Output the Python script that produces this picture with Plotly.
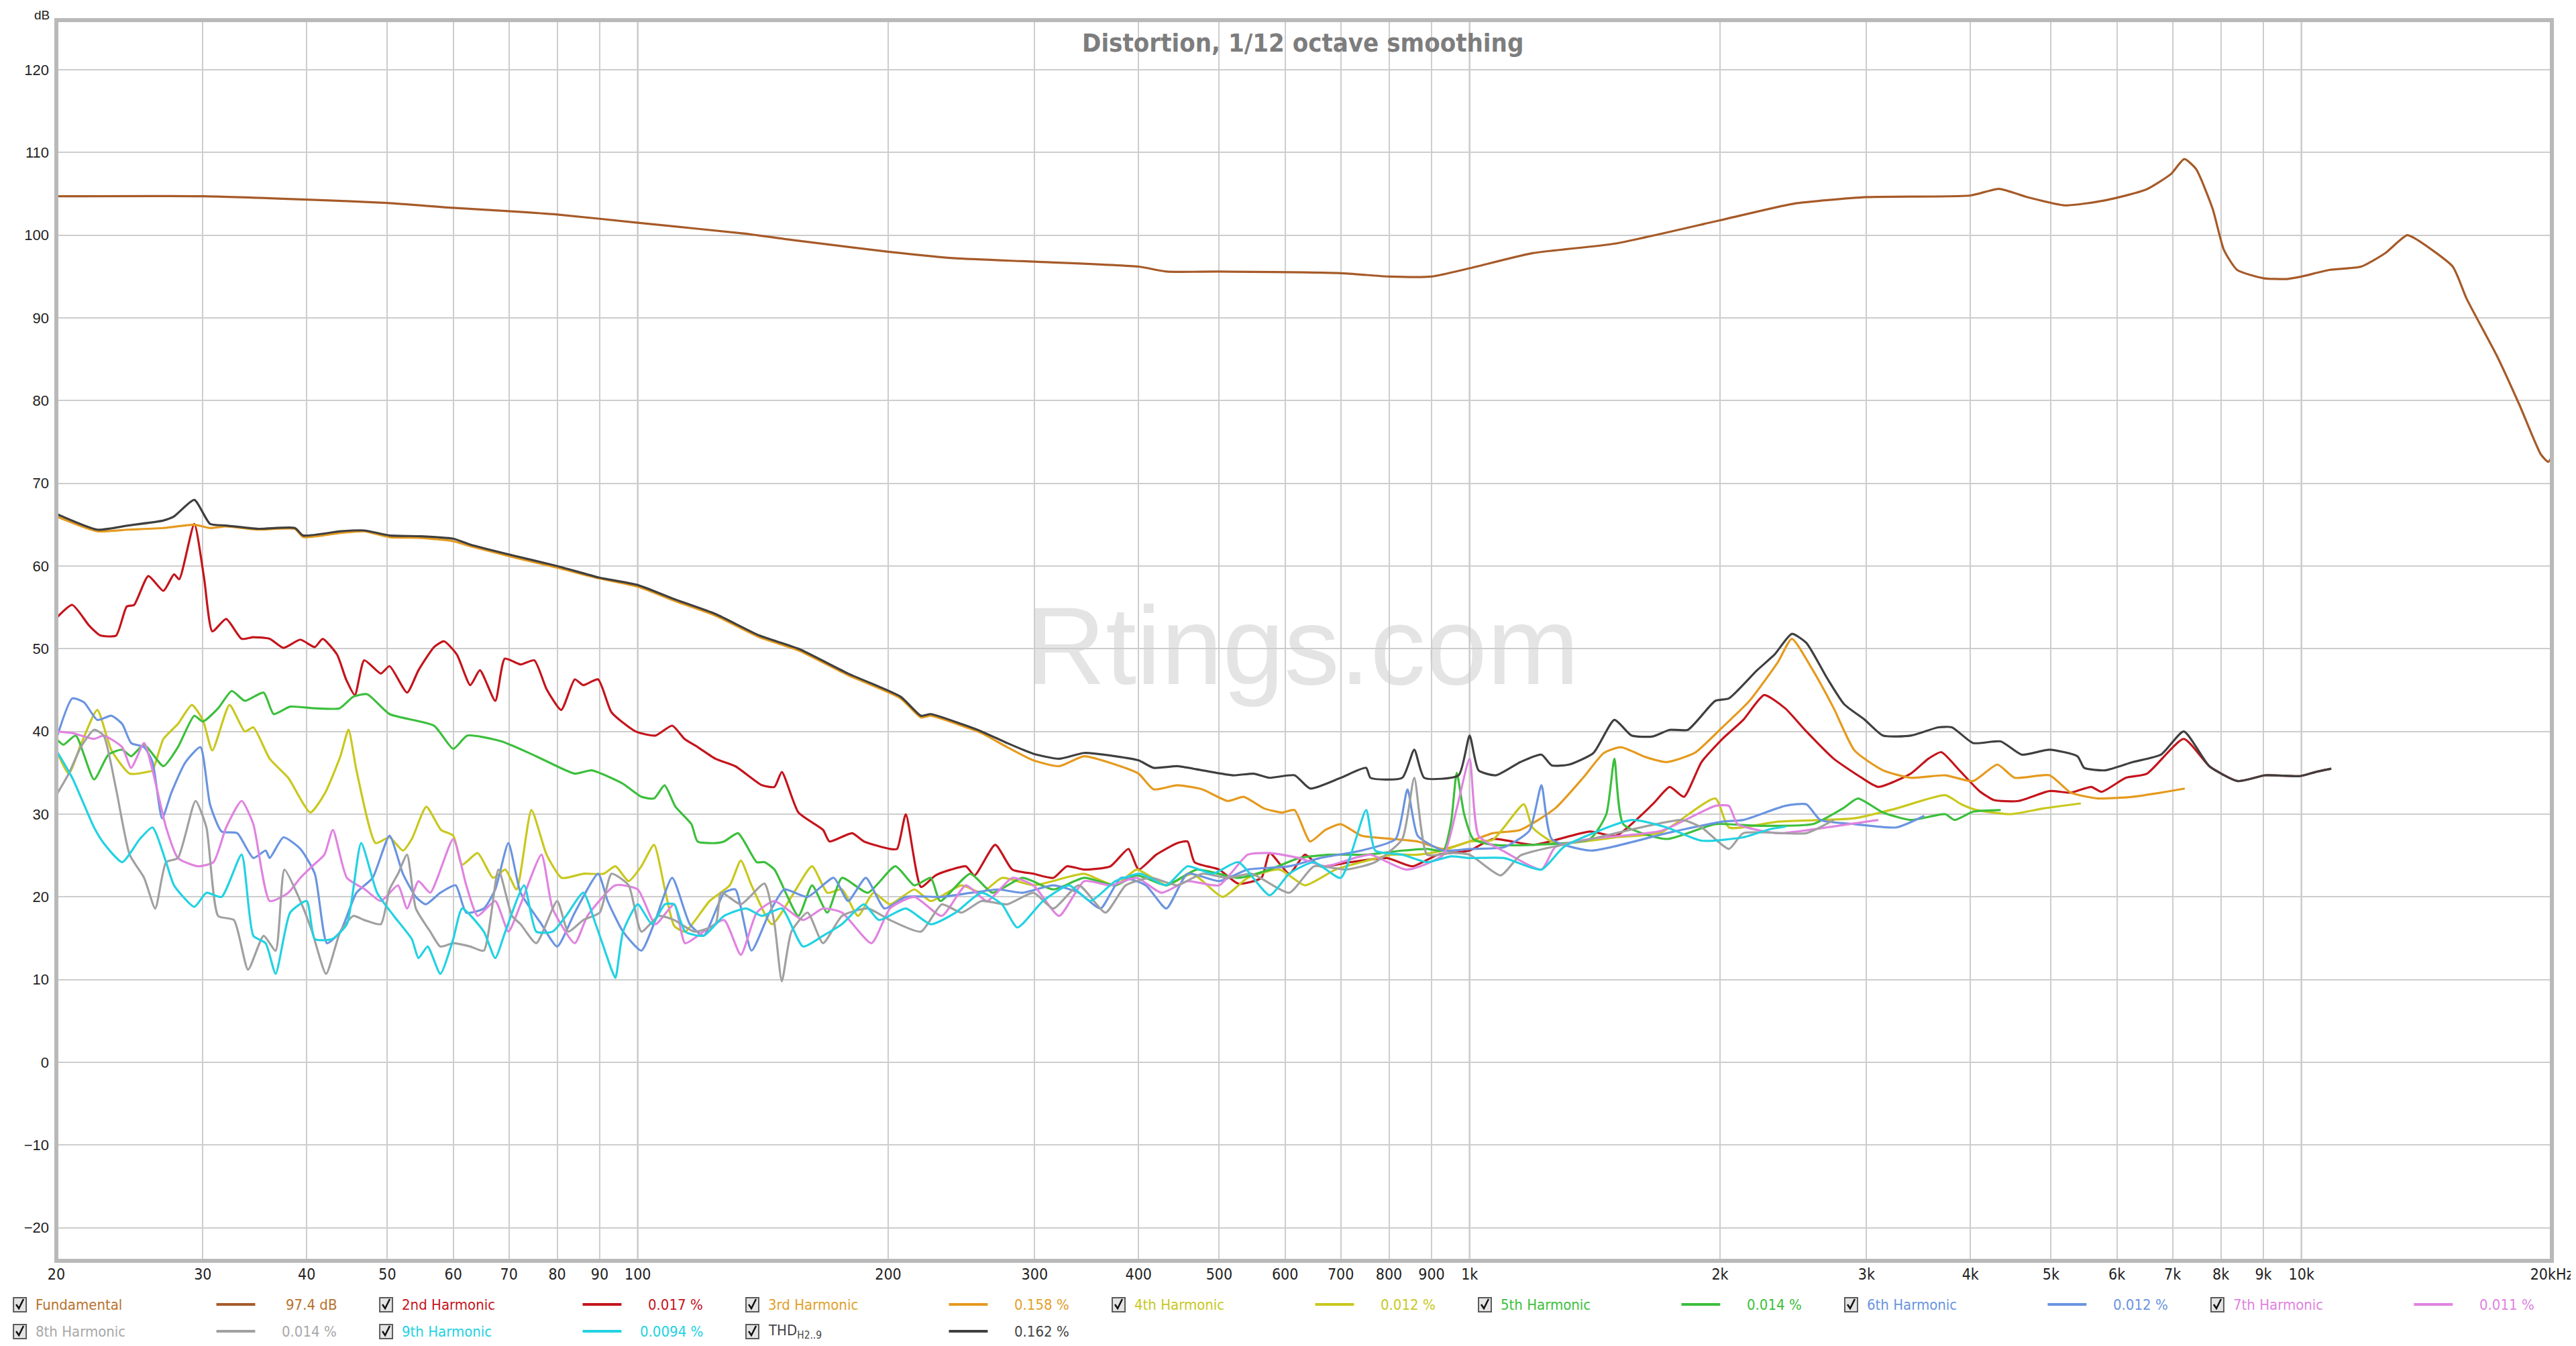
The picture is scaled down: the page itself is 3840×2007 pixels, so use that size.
import math
import plotly.graph_objects as go

# ---------------- data (frequency Hz, level dB) ----------------
FUND = [(20,104.7),(30,104.7),(40,104.3),(50,103.9),(60,103.3),(70,102.9),(80,102.5),(100,101.5),(134,100.2),(154,99.4),(200,98.0),(241,97.2),(300,96.8),(400,96.2),(432,95.6),(500,95.6),(700,95.4),(800,95.0),(900,95.0),(1000,96.0),(1186,97.8),(1500,99.0),(2000,101.8),(2450,103.8),(3000,104.6),(4000,104.8),(4330,105.6),(4680,104.6),(5200,103.6),(5800,104.2),(6500,105.5),(6970,107.4),(7230,109.2),(7470,108.0),(7820,103.2),(8070,98.2),(8370,95.8),(9000,94.8),(9600,94.7),(10000,95.0),(10800,95.8),(11800,96.2),(12600,97.8),(13400,100.0),(13800,99.4),(15200,96.2),(15800,92.3),(17200,85.3),(18300,79.4),(19400,73.5),(19800,72.6),(20000,73.2)]

H2 = [(20,53.7),(20.9,55.3),(21.9,52.8),(22.6,51.6),(23.6,51.6),(24.3,55.1),(24.8,55.3),(25.8,58.8),(26.9,57.0),(27.7,59.0),(28.1,58.4),(29.3,65.1),(30.1,58.6),(30.8,52.1),(32.0,53.6),(33.4,51.2),(34.5,51.4),(36.1,51.2),(37.5,50.1),(39.3,51.1),(40.9,50.2),(41.8,51.2),(43.5,49.3),(44.6,46.3),(45.7,44.4),(46.9,48.6),(49.1,47.0),(50.3,47.9),(52.8,44.7),(54.5,47.4),(56.9,50.2),(58.5,50.9),(60.6,49.3),(62.9,45.6),(64.6,47.4),(67.4,43.7),(69.2,48.8),(72.3,48.1),(75.1,48.6),(77.7,45.1),(80.9,42.6),(84,46.3),(86,45.6),(89.6,46.3),(93,42.3),(99.4,40.0),(105,39.5),(110,40.7),(113.8,39.1),(118.1,38.1),(124,36.7),(131,35.8),(141,33.5),(146,33.3),(149,35.1),(156,30.2),(167,28.1),(170,26.7),(181,27.7),(187,26.7),(201,25.8),(205,25.8),(210,30.0),(219,21.2),(228,22.6),(238,23.3),(248,23.7),(254,22.6),(269,26.3),(282,23.3),(299,22.8),(316,22.3),(328,23.7),(344,23.3),(370,23.7),(389,25.8),(400,23.3),(420,25.1),(445,26.5),(458,26.7),(467,24.2),(500,23.3),(527,21.6),(562,22.3),(575,25.3),(607,22.8),(634,25.1),(661,23.7),(719,24.2),(795,24.7),(854,23.7),(916,25.1),(1000,25.6),(1066,27.0),(1196,26.3),(1395,27.9),(1500,27.4),(1660,31.2),(1740,33.3),(1810,32.1),(1900,36.3),(2013,39.1),(2133,41.4),(2260,44.4),(2395,42.8),(2540,40.0),(2740,36.7),(2960,34.4),(3100,33.3),(3390,34.9),(3560,36.7),(3690,37.5),(3880,35.3),(4100,32.8),(4270,31.7),(4570,31.6),(4980,32.8),(5280,32.6),(5590,33.3),(5750,32.7),(6150,34.4),(6520,34.9),(7220,39.1),(7750,35.8),(8380,34.0),(9050,34.7),(9960,34.6),(10400,35.1),(10860,35.5)]

H3 = [(20,66.0),(22.4,64.2),(24.4,64.4),(26.9,64.6),(29.3,65.0),(30.6,64.6),(32,64.8),(35,64.4),(38.7,64.5),(39.6,63.5),(43.9,64.0),(46.9,64.2),(50.3,63.5),(54.9,63.4),(60,63.0),(62.9,62.4),(70,61.2),(80,59.8),(89.9,58.5),(100,57.5),(110.6,55.8),(124,54.0),(140,51.4),(156,49.8),(179,46.8),(207,44.0),(219,41.7),(225,41.9),(245,40.7),(259,39.8),(278,38.1),(299,36.5),(321,35.8),(344,37.0),(375,36.0),(400,34.9),(417,33.0),(445,33.5),(477,33.0),(512,31.6),(535,32.1),(566,30.7),(595,30.2),(616,30.5),(643,26.7),(671,28.1),(700,28.8),(741,27.4),(807,27.0),(866,26.7),(930,25.8),(1000,26.7),(1066,27.7),(1151,28.1),(1267,30.7),(1369,34.4),(1450,37.4),(1520,38.1),(1628,36.9),(1725,36.3),(1864,37.4),(2013,40.5),(2170,43.7),(2348,48.4),(2440,51.2),(2586,47.4),(2740,42.8),(2902,37.7),(3140,35.3),(3390,34.4),(3730,34.7),(4030,34.0),(4310,36.0),(4520,34.4),(4980,34.7),(5280,32.6),(5700,31.9),(6270,32.1),(6780,32.6),(7240,33.1)]

H4 = [(20,37.7),(20.7,34.9),(21.4,38.4),(22.4,42.6),(23.3,37.7),(24.5,34.9),(25.7,35.1),(26.1,35.3),(26.9,39.1),(28.0,40.9),(29.1,43.2),(30.0,41.4),(30.8,37.7),(32.3,43.2),(33.7,40.0),(34.5,40.5),(36.1,36.7),(38.0,34.4),(40.4,30.2),(42.1,32.6),(43.9,37.0),(44.9,40.2),(45.9,35.3),(48.4,26.5),(50.3,27.2),(52.2,25.6),(53.5,27.0),(55.7,30.9),(58,28.1),(60,27.4),(61.5,23.9),(64.2,25.3),(67,22.3),(69.3,23.3),(71.5,20.9),(74.5,30.5),(77.7,25.1),(81,22.3),(86,22.8),(91,22.8),(94,23.7),(97.5,21.9),(101,23.7),(104.6,26.3),(107.8,20.9),(110.6,16.5),(114,15.8),(122,19.5),(129,21.4),(133,24.4),(137,21.4),(145,16.7),(153,20.0),(162,23.7),(169,20.5),(176,20.9),(184,17.7),(192,20.5),(201,19.1),(215,20.9),(225,19.5),(245,21.4),(259,20.5),(274,22.3),(299,21.4),(326,22.3),(344,22.8),(375,21.4),(398,23.3),(432,21.4),(464,22.8),(505,20.0),(541,22.3),(591,23.3),(634,21.4),(690,23.3),(741,24.2),(807,25.1),(866,25.1),(930,25.6),(1000,26.7),(1066,26.9),(1162,31.2),(1190,28.4),(1267,26.5),(1400,26.8),(1500,27.2),(1700,27.8),(1974,31.9),(2050,28.4),(2348,29.1),(2902,29.5),(3260,30.7),(3730,32.3),(3900,31.2),(4070,30.5),(4470,30.0),(4900,30.7),(5430,31.3)]

H5 = [(20,39.1),(20.4,38.4),(21.1,39.5),(22.2,34.2),(23.1,37.2),(24.0,37.8),(24.6,37.0),(25.5,38.4),(26.9,35.8),(28.0,38.1),(29.3,41.9),(30.0,41.2),(31.3,42.8),(32.5,44.9),(33.7,43.7),(35.5,44.7),(36.5,42.1),(38.2,43.0),(40.9,42.8),(43.8,42.8),(45.5,44.2),(47.3,44.5),(50.3,42.1),(56.9,40.7),(60.0,37.9),(62.4,39.5),(68.6,38.8),(75.5,37.0),(84,34.9),(88,35.3),(95.9,33.7),(101,32.1),(104.6,31.9),(107.7,33.5),(111,30.9),(116,28.8),(118,26.7),(124,26.5),(127,26.7),(132,27.7),(139,24.2),(142,24.2),(146,23.3),(156,17.7),(162,21.4),(169,18.1),(176,22.3),(189,20.5),(204,23.7),(215,21.4),(225,22.3),(231,19.5),(251,22.8),(267,20.5),(290,22.3),(316,20.9),(344,22.3),(375,21.4),(398,22.6),(432,21.4),(470,23.3),(527,22.3),(575,23.3),(624,24.7),(680,25.1),(751,25.1),(830,25.6),(889,25.8),(930,25.6),(950,29.0),(965,35.0),(985,30.0),(1010,27.0),(1066,26.3),(1395,27.0),(1460,30.0),(1493,36.7),(1530,28.8),(1725,27.0),(1974,28.8),(2216,28.6),(2586,28.8),(2810,30.7),(2930,31.9),(3140,30.2),(3390,29.3),(3730,30.0),(3830,29.3),(4030,30.3),(4350,30.5)]

H6 = [(20,39.1),(20.9,44.0),(21.6,43.5),(22.4,41.4),(23.3,41.9),(24.0,40.9),(24.6,38.6),(25.5,38.1),(26.1,36.3),(26.8,29.5),(27.5,32.6),(28.6,36.3),(29.8,38.1),(30.6,31.2),(31.6,27.9),(33,27.7),(34.5,24.7),(35.7,25.6),(36.1,24.7),(37.5,27.2),(39.3,25.8),(40.9,22.8),(42.3,14.4),(43.9,15.8),(45.9,20.5),(48.0,22.3),(50.3,27.4),(52.2,22.8),(54.1,20.0),(55.6,19.1),(57.9,20.5),(60.4,21.4),(62.2,18.1),(65.3,18.6),(67.4,20.9),(69.9,26.5),(72.3,20.5),(76.6,16.7),(80,14.0),(84,18.1),(89.6,22.8),(92,19.5),(96,15.8),(101,13.5),(105,17.2),(110,22.3),(115.5,16.7),(120,15.3),(127,20.5),(131,20.9),(137,13.5),(144,18.1),(150,20.9),(160,20.0),(172,22.3),(179,19.5),(188,22.3),(198,18.6),(210,20.0),(232,20.0),(252,20.5),(271,20.9),(290,20.5),(316,21.4),(339,20.5),(360,18.6),(381,22.3),(408,21.4),(432,18.6),(458,22.8),(500,21.9),(541,23.3),(607,23.7),(661,24.7),(741,25.6),(815,27.0),(842,33.0),(866,27.4),(930,25.6),(1000,25.8),(1100,26.0),(1180,28.0),(1220,33.5),(1255,27.0),(1400,25.6),(1725,27.7),(2013,29.1),(2133,29.3),(2395,31.0),(2540,31.2),(2640,29.3),(2902,28.8),(3260,28.4),(3520,29.8)]

H7 = [(20,40.0),(20.9,39.8),(22.2,39.1),(22.8,39.5),(24.0,38.1),(24.6,35.6),(25.5,38.6),(26.1,35.3),(27.1,28.4),(28.0,24.7),(29.6,23.7),(30.9,24.2),(32.0,28.4),(33.4,31.6),(34.5,28.8),(36.1,19.5),(38.0,20.5),(39.3,22.3),(40.6,23.7),(42.0,25.1),(43.0,28.1),(44.7,22.3),(47.0,20.9),(49.1,19.5),(51.5,21.4),(52.8,18.6),(54.5,21.9),(56.3,20.5),(60.0,27.0),(62.2,21.4),(64.2,17.7),(67.4,19.5),(69.9,15.8),(72.3,19.1),(76.6,25.1),(79,18.6),(84,14.4),(87,17.7),(94,21.4),(100,20.9),(105,16.7),(110.6,19.1),(114,14.4),(120,15.8),(127,17.2),(133,13.0),(139,18.1),(146,19.5),(158,17.2),(167,18.6),(176,18.1),(191,14.4),(201,18.6),(215,20.0),(232,17.7),(248,21.4),(263,19.5),(282,22.3),(299,21.4),(321,17.7),(344,21.9),(370,21.4),(398,22.3),(426,20.5),(458,21.9),(500,21.4),(541,25.1),(575,25.3),(624,24.7),(671,23.7),(727,24.7),(760,25.1),(840,23.3),(930,25.1),(965,30.7),(1000,36.7),(1025,27.4),(1100,25.5),(1220,23.3),(1267,26.0),(1395,27.0),(1700,28.0),(1974,31.0),(2050,31.0),(2100,28.8),(2348,27.7),(2688,28.4),(3100,29.3)]

H8 = [(20,32.3),(20.7,34.9),(21.4,38.1),(22.2,40.2),(22.8,39.5),(23.6,33.0),(24.5,25.1),(25.5,22.3),(26.3,18.6),(27.1,24.2),(28,24.7),(29.4,31.6),(30.3,28.4),(31.3,17.7),(32.7,17.2),(34.0,11.2),(35.5,15.3),(36.7,13.5),(37.6,23.3),(39.3,19.5),(40.6,15.8),(42.2,10.7),(43.9,15.8),(45.5,17.7),(46.9,17.2),(49.1,16.7),(50.3,20.9),(51.5,22.8),(52.8,25.1),(54.1,18.6),(56.3,15.8),(57.9,14.0),(60,14.4),(62.9,14.0),(65.3,13.5),(68,23.3),(70.6,17.7),(72.3,16.7),(75.5,14.4),(80,19.5),(82.5,15.8),(86,17.2),(90,18.1),(93,22.8),(97.5,21.4),(101,15.8),(106,17.7),(110.6,17.2),(117,15.8),(124,16.7),(126,20.5),(133,19.1),(142,21.6),(146,16.7),(149,9.8),(153,15.8),(160,18.1),(167,14.4),(176,17.7),(189,18.6),(201,17.2),(219,15.8),(232,19.1),(245,18.1),(259,19.5),(278,19.1),(299,20.5),(316,18.6),(339,21.4),(365,18.1),(386,21.4),(414,22.3),(445,21.4),(477,22.8),(512,22.3),(547,22.8),(607,20.5),(650,23.7),(710,23.3),(770,24.2),(830,27.0),(858,34.4),(889,25.1),(950,25.3),(1000,25.1),(1090,22.6),(1151,25.0),(1400,27.0),(1800,29.3),(1900,28.4),(2050,25.8),(2133,27.7),(2540,27.7),(2740,29.3)]

H9 = [(20,37.7),(20.9,34.4),(22.2,28.4),(22.8,26.5),(24.0,24.2),(25.2,27.0),(26.1,28.4),(27.1,24.2),(27.7,21.4),(29.3,18.8),(30.3,20.5),(31.6,20.0),(33.4,25.1),(34.5,15.3),(35.7,14.4),(36.7,10.7),(38.2,18.1),(40.0,19.5),(40.9,14.9),(42.9,14.9),(44.7,16.7),(46.5,26.5),(48.6,20.5),(50.9,17.7),(53.5,14.9),(54.5,12.6),(55.9,14.0),(57.9,10.7),(60,14.9),(61.5,18.6),(65.3,15.8),(67.4,12.6),(69.3,15.8),(73,21.4),(75.5,15.8),(79,15.8),(82,17.7),(86,20.5),(89,16.7),(93,11.2),(94,10.2),(96,15.8),(100,19.1),(104,16.7),(107.8,19.1),(110.6,19.1),(114,15.8),(120,15.3),(127,17.7),(135,18.6),(141,17.7),(149,18.6),(158,14.0),(167,15.3),(176,16.7),(187,19.1),(195,17.2),(210,18.6),(225,16.7),(241,18.1),(259,20.5),(274,19.1),(286,16.3),(307,19.5),(330,21.4),(350,19.5),(375,21.9),(402,22.8),(432,21.4),(458,23.7),(491,22.8),(527,24.2),(575,20.2),(607,22.8),(650,24.2),(700,22.3),(751,30.5),(770,25.6),(830,25.1),(889,24.2),(950,24.9),(1000,24.7),(1100,24.7),(1220,23.3),(1300,26.1),(1566,29.3),(1725,28.4),(1900,26.8),(2133,27.2),(2300,28.2),(2400,28.5)]

THD = [(20,66.3),(22.4,64.4),(24.4,64.9),(26.9,65.5),(27.7,66.0),(29.3,68.0),(30.6,65.1),(32,64.9),(35,64.5),(38.7,64.6),(39.6,63.7),(43.9,64.2),(46.9,64.3),(50.3,63.7),(54.9,63.6),(60,63.3),(62.9,62.6),(70,61.4),(80,60.0),(89.9,58.6),(100,57.7),(110.6,56.0),(124,54.2),(140,51.6),(156,50.0),(179,47.0),(207,44.2),(219,41.9),(225,42.1),(245,40.9),(259,40.0),(278,38.6),(299,37.3),(321,36.7),(344,37.4),(375,37.0),(400,36.5),(417,35.6),(445,35.8),(477,35.3),(520,34.7),(550,34.9),(574,34.4),(616,34.7),(643,33.1),(700,34.4),(751,35.6),(760,34.4),(830,34.4),(858,37.8),(882,34.4),(970,34.7),(1000,39.5),(1025,35.3),(1076,34.7),(1151,36.3),(1220,37.2),(1255,35.9),(1317,36.0),(1409,37.4),(1493,41.4),(1566,39.5),(1660,39.4),(1740,40.2),(1830,40.2),(1974,43.7),(2050,44.0),(2216,47.4),(2326,49.3),(2440,51.8),(2540,50.7),(2688,46.5),(2820,43.3),(2987,41.4),(3140,39.5),(3390,39.5),(3660,40.5),(3800,40.5),(4030,38.6),(4350,38.8),(4610,37.2),(4980,37.8),(5380,37.0),(5480,35.6),(5810,35.3),(6270,36.3),(6780,37.2),(7220,40.0),(7750,35.8),(8380,34.0),(9050,34.7),(9960,34.6),(10400,35.1),(10860,35.5)]

SERIES_NAMES = ["Fundamental", "2nd Harmonic", "3rd Harmonic", "4th Harmonic", "5th Harmonic",
                "6th Harmonic", "7th Harmonic", "8th Harmonic", "9th Harmonic", "THD<sub>H2..9</sub>"]
SERIES_DATA = [FUND, H2, H3, H4, H5, H6, H7, H8, H9, THD]
SERIES_VALUES = ["97.4 dB", "0.017 %", "0.158 %", "0.012 %", "0.014 %",
                 "0.012 %", "0.011 %", "0.014 %", "0.0094 %", "0.162 %"]
COLORS = ["#a65a28", "#c4141c", "#e59a1e", "#c8c81e", "#3cbf3c",
          "#6a94e0", "#e083e0", "#a0a0a0", "#22d2e2", "#3f3f3f"]
NAME_COLORS = ["#b8722e", "#c4141c", "#e2a02a", "#c8c81e", "#3cbf3c",
               "#6a94e0", "#e083e0", "#a8a8a8", "#22d2e2", "#444444"]

X_TICKS = [20, 30, 40, 50, 60, 70, 80, 90, 100, 200, 300, 400, 500, 600, 700, 800, 900,
           1000, 2000, 3000, 4000, 5000, 6000, 7000, 8000, 9000, 10000, 20000]
X_LABELS = ["20", "30", "40", "50", "60", "70", "80", "90", "100", "200", "300", "400", "500",
            "600", "700", "800", "900", "1k", "2k", "3k", "4k", "5k", "6k", "7k", "8k", "9k",
            "10k", "20kHz"]
DARK_X = [100, 1000, 10000]

# ---------------- geometry ----------------
W, H = 3840, 2007
L, R, T, B = 76, 37, 22, 135
PW, PH = W - L - R, H - T - B
XMIN, XMAX = math.log10(20), math.log10(20000)


def px(x):
    return (x - L) / PW


def py(y):
    return (H - B - y) / PH


NARROW = "Liberation Sans Narrow, Arial Narrow, DejaVu Sans Condensed, Liberation Sans, Arial"
SANS = "Liberation Sans, Arial, sans-serif"

fig = go.Figure()

for name, data, col in zip(SERIES_NAMES, SERIES_DATA, COLORS):
    xs = [p[0] for p in data]
    ys = [p[1] for p in data]
    fig.add_trace(go.Scatter(
        x=xs, y=ys, mode="lines", name=name, showlegend=False,
        line=dict(color=col, width=3.2, shape="spline", smoothing=0.55),
        hoverinfo="skip"))

shapes = []
for f in DARK_X:
    xp = (math.log10(f) - XMIN) / (XMAX - XMIN)
    shapes.append(dict(type="line", xref="paper", yref="paper", x0=xp, x1=xp, y0=0, y1=1,
                       line=dict(color="#8c8c8c", width=2), layer="below"))
shapes.append(dict(type="rect", xref="paper", yref="paper", x0=0, x1=1, y0=0, y1=1,
                   line=dict(color="#b9b9b9", width=6), layer="above"))

annotations = []
annotations.append(dict(text="<b>Distortion, 1/12 octave smoothing</b>", xref="paper", yref="paper",
                        x=px(1937), y=py(56), xanchor="center", yanchor="middle", showarrow=False,
                        font=dict(family=NARROW, size=38, color="#7d7d7d")))
annotations.append(dict(text="Rtings.com", xref="paper", yref="paper",
                        x=px(1937), y=py(955), xanchor="center", yanchor="middle", showarrow=False,
                        font=dict(family=SANS, size=165, color="rgba(205,205,205,0.55)")))
annotations.append(dict(text="dB", xref="paper", yref="paper", x=px(54), y=py(14),
                        xanchor="center", yanchor="middle",
                        showarrow=False, font=dict(family=SANS, size=19, color="#222222")))

# legend (drawn manually)
ROWS_Y = [1937, 1977]
STRIDE = 547
for i, (name, val, col, ncol) in enumerate(zip(SERIES_NAMES, SERIES_VALUES, COLORS, NAME_COLORS)):
    row, c = (0, i) if i < 7 else (1, i - 7)
    y = ROWS_Y[row]
    x0 = c * STRIDE
    shapes.append(dict(type="rect", xref="paper", yref="paper",
                       x0=px(x0 + 12), x1=px(x0 + 31), y0=py(y + 11), y1=py(y - 10),
                       line=dict(color="#5a5a5a", width=2), fillcolor="#e4e4e4", layer="above"))
    path = "M {:.6f},{:.6f} L {:.6f},{:.6f} L {:.6f},{:.6f}".format(
        px(x0 + 16), py(y), px(x0 + 20), py(y + 6), px(x0 + 27), py(y - 8))
    shapes.append(dict(type="path", xref="paper", yref="paper", path=path,
                       line=dict(color="#111111", width=2.5), layer="above"))
    annotations.append(dict(text=name, xref="paper", yref="paper", x=px(x0 + 43), y=py(y),
                            xanchor="left", yanchor="middle", showarrow=False,
                            font=dict(family=NARROW, size=22, color=ncol)))
    shapes.append(dict(type="line", xref="paper", yref="paper", x0=px(x0 + 315), x1=px(x0 + 373),
                       y0=py(y), y1=py(y), line=dict(color=col, width=4), layer="above"))
    annotations.append(dict(text=val, xref="paper", yref="paper", x=px(x0 + 497), y=py(y),
                            xanchor="right", yanchor="middle", showarrow=False,
                            font=dict(family=NARROW, size=22, color=ncol)))

fig.update_layout(
    width=W, height=H,
    margin=dict(l=L, r=R, t=T, b=B, pad=0),
    paper_bgcolor="white", plot_bgcolor="white",
    shapes=shapes, annotations=annotations,
    hovermode=False,
    xaxis=dict(type="log", range=[XMIN, XMAX], tickvals=X_TICKS, ticktext=X_LABELS,
               showgrid=True, gridcolor="#cdcdcd", gridwidth=2, zeroline=False, showline=False,
               ticks="", ticklabelstandoff=4,
               tickfont=dict(family=NARROW, size=23, color="#222222")),
    yaxis=dict(range=[-24, 126], tick0=0, dtick=10, showgrid=True, gridcolor="#cdcdcd",
               gridwidth=2, zeroline=False, showline=False, ticks="", ticklabelstandoff=10,
               tickfont=dict(family=SANS, size=22, color="#222222")),
)

fig.write_html("out.html")
